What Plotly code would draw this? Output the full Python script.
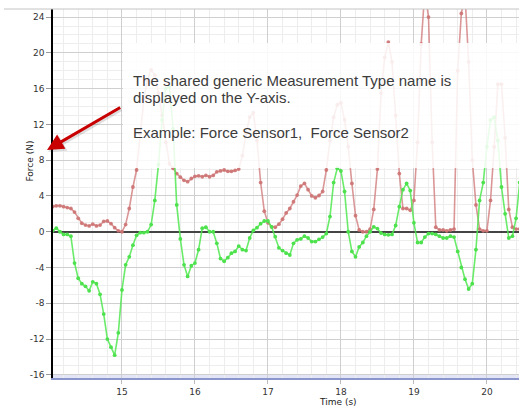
import plotly.graph_objects as go

# Sampling of the two force channels (seconds)
t_start = 14.05
t_step = 0.05

# Force Sensor1 (N)
sensor1 = [
    2.8, 2.9, 2.9, 2.8, 2.7, 2.6, 2.2, 1.5, 0.95, 0.75,
    0.65, 0.85, 0.65, 0.75, 1.15, 1.2, 0.9, 0.45, 0.1, 0.0,
    0.8, 2.6, 5.0, 6.9, 11.0, 14.8, 17.0, 18.1, 17.5, 15.5,
    13.0, 10.0, 7.6, 7.1, 6.5, 6.1, 5.75, 5.6, 5.95, 6.2,
    6.25, 6.15, 6.3, 6.15, 6.3, 6.7, 6.8, 6.9, 6.75, 6.75,
    6.85, 7.0, 8.5, 11.0, 12.8, 13.3, 10.2, 5.5, 2.3, 1.0,
    0.55, 0.5, 0.85, 1.4, 2.1, 2.6, 3.35, 4.1, 5.1, 5.4,
    4.7, 4.0, 3.8, 4.05, 4.5, 6.9, 10.2, 12.8, 14.2, 14.4,
    12.5, 9.5, 5.4, 1.8, 0.2, 0.0, 0.0, 0.3, 2.5, 7.0,
    15.5, 19.5, 21.2, 19.0, 13.0, 6.5, 2.6, 2.6, 2.4, 3.5,
    10.0, 21.0, 27.0, 24.0, 10.0, 0.5, 0.2, 0.2, 0.1, 0.2,
    0.3, 18.0, 24.4, 26.5, 19.0, 8.0, 3.0, 0.3, 0.1, 0.1,
    3.5, 9.5, 16.5, 16.5, 10.5, 2.5, 0.5, 0.3, 0.3,
]

# Force Sensor2 (N)
sensor2 = [
    0.1, 0.4, 0.0, -0.3, -0.3, -0.5, -3.5, -5.2, -5.8, -6.1,
    -6.6, -5.6, -5.8, -7.0, -9.2, -12.0, -12.9, -13.8, -11.3, -6.5,
    -3.7, -2.8, -1.5, -0.4, -0.1, -0.1, 0.0, 0.8, 3.5, 7.5,
    12.5, 16.0, 16.2, 11.5, 3.0, -0.8, -3.7, -5.0, -3.8, -3.5,
    -2.0, 0.4, 0.5, 0.0, 0.0, -1.3, -3.0, -3.3, -2.9, -2.4,
    -2.2, -1.6, -2.0, -2.1, -0.7, 0.15, 0.45, 0.9, 1.2, 1.2,
    0.55, -0.55, -1.8, -2.1, -2.4, -2.6, -1.3, -0.9, -0.8, -0.5,
    -0.7, -1.1, -1.1, -0.85, -0.6, -0.2, 1.7, 5.5, 7.1, 6.8,
    4.5, 0.0, -2.2, -2.8, -1.7, -1.2, -0.5, 0.0, 0.55, 0.35,
    -0.15, -0.3, -0.35, -0.3, 0.7, 2.8, 4.7, 5.4, 4.6, 1.0,
    -1.2, -1.2, -0.6, -0.2, -0.2, -0.3, -0.5, -0.7, -0.7, -0.5,
    -0.6, -2.2, -4.0, -5.3, -6.4, -5.8, -2.0, 3.5, 5.5, 9.5,
    12.5, 12.8, 10.2, 5.0, 2.0, -0.7, -0.5, 1.5, 5.5,
]

time_s = [round(t_start + t_step * i, 2) for i in range(len(sensor2))]

x_ticks = [15, 16, 17, 18, 19, 20]
x_labels = ["15", "16", "17", "18", "19", "20"]
y_ticks = [-16, -12, -8, -4, 0, 4, 8, 12, 16, 20, 24]
y_labels = ["-16", "-12", "-8", "-4", "0", "4", "8", "12", "16", "20", "24"]

note_lines = [
    "The shared generic Measurement Type name is",
    "displayed on the Y-axis.",
    "Example: Force Sensor1,\u00a0 Force Sensor2",
]

# Plot-area geometry in pixels
W, H = 519, 408
L, R, T, B = 53, 0, 9, 30
pw, ph = W - L - R, H - T - B


def px(xp):
    return (xp - L) / pw


def py(yp):
    return (H - B - yp) / ph


fig = go.Figure()

fig.add_trace(go.Scatter(
    x=time_s, y=sensor1, mode="lines+markers", name="Force Sensor1",
    line=dict(color="rgba(210,125,125,0.8)", width=1.6),
    marker=dict(color="rgba(205,115,115,0.9)", size=3.8),
))
fig.add_trace(go.Scatter(
    x=time_s, y=sensor2, mode="lines+markers", name="Force Sensor2",
    line=dict(color="rgba(80,232,80,0.85)", width=1.6),
    marker=dict(color="#4de24d", size=3.8),
))

axis_font = dict(family="DejaVu Sans", size=9, color="#333333")

fig.update_xaxes(
    range=[14.055, 20.44], tickmode="array", tickvals=x_ticks, ticktext=x_labels,
    showgrid=True, gridcolor="#cfcfcf", gridwidth=1,
    minor=dict(dtick=0.2, showgrid=True, gridcolor="#ededed", ticks=""),
    showline=True, linecolor="#8a96cc", linewidth=1.5,
    ticks="outside", ticklen=4, tickcolor="#bbbbbb",
    tickfont=axis_font, zeroline=False,
)
fig.update_yaxes(
    range=[-16.35, 24.9], tickmode="array", tickvals=y_ticks, ticktext=y_labels,
    showgrid=True, gridcolor="#cfcfcf", gridwidth=1,
    minor=dict(dtick=1, showgrid=True, gridcolor="#ededed", ticks=""),
    showline=True, linecolor="#000000", linewidth=1.5,
    ticks="outside", ticklen=5, tickcolor="#999999",
    tickfont=axis_font,
    zeroline=True, zerolinecolor="#444444", zerolinewidth=1.5,
)

shapes = [
    # pale band along the time axis
    dict(type="rect", xref="paper", yref="paper", x0=0, x1=1,
         y0=0, y1=py(374), fillcolor="rgba(170,180,230,0.35)",
         line=dict(width=0), layer="below"),
    # top frame line
    dict(type="line", xref="paper", yref="paper", x0=px(4), x1=1,
         y0=1, y1=1, line=dict(color="#c4c4c4", width=1)),
    # translucent note panel
    dict(type="rect", xref="paper", yref="paper", x0=px(123), x1=1,
         y0=py(168), y1=py(43), fillcolor="rgba(255,255,255,0.86)",
         line=dict(width=0), layer="above"),
]

note_font = dict(family="Liberation Sans, Arial", size=15, color="#3c3c3c")
annotations = []
for txt, yc in zip(note_lines, [80.5, 97.3, 132.3]):
    annotations.append(dict(
        text=txt, xref="paper", yref="paper", x=px(131), y=py(yc),
        xanchor="left", yanchor="middle", showarrow=False, font=note_font,
    ))

# arrow pointing at the axis title, with a soft drop shadow
head_x, head_y = 47, 150
tail_x, tail_y = 121.7, 106.7
annotations.append(dict(
    text="", xref="paper", yref="paper", x=px(head_x + 1), y=py(head_y + 2),
    ax=tail_x - head_x, ay=tail_y - head_y, showarrow=True,
    arrowhead=2, arrowsize=1.0, arrowwidth=3.5, arrowcolor="rgba(0,0,0,0.12)",
))
annotations.append(dict(
    text="", xref="paper", yref="paper", x=px(head_x), y=py(head_y),
    ax=tail_x - head_x, ay=tail_y - head_y, showarrow=True,
    arrowhead=2, arrowsize=1.1, arrowwidth=3, arrowcolor="#c80000",
))

title_font = dict(family="DejaVu Sans", size=9, color="#222222")
annotations.append(dict(
    text="Time (s)", xref="paper", yref="paper", x=px(337.5), y=py(402),
    xanchor="center", yanchor="middle", showarrow=False, font=title_font,
))
annotations.append(dict(
    text="Force (N)", xref="paper", yref="paper", x=px(29.5), y=py(161),
    xanchor="center", yanchor="middle", showarrow=False, font=title_font,
    textangle=-90,
))

fig.update_layout(
    width=W, height=H,
    margin=dict(l=L, r=R, t=T, b=B, pad=0),
    paper_bgcolor="white", plot_bgcolor="white",
    showlegend=False, shapes=shapes, annotations=annotations,
)

fig.write_html("out.html")
